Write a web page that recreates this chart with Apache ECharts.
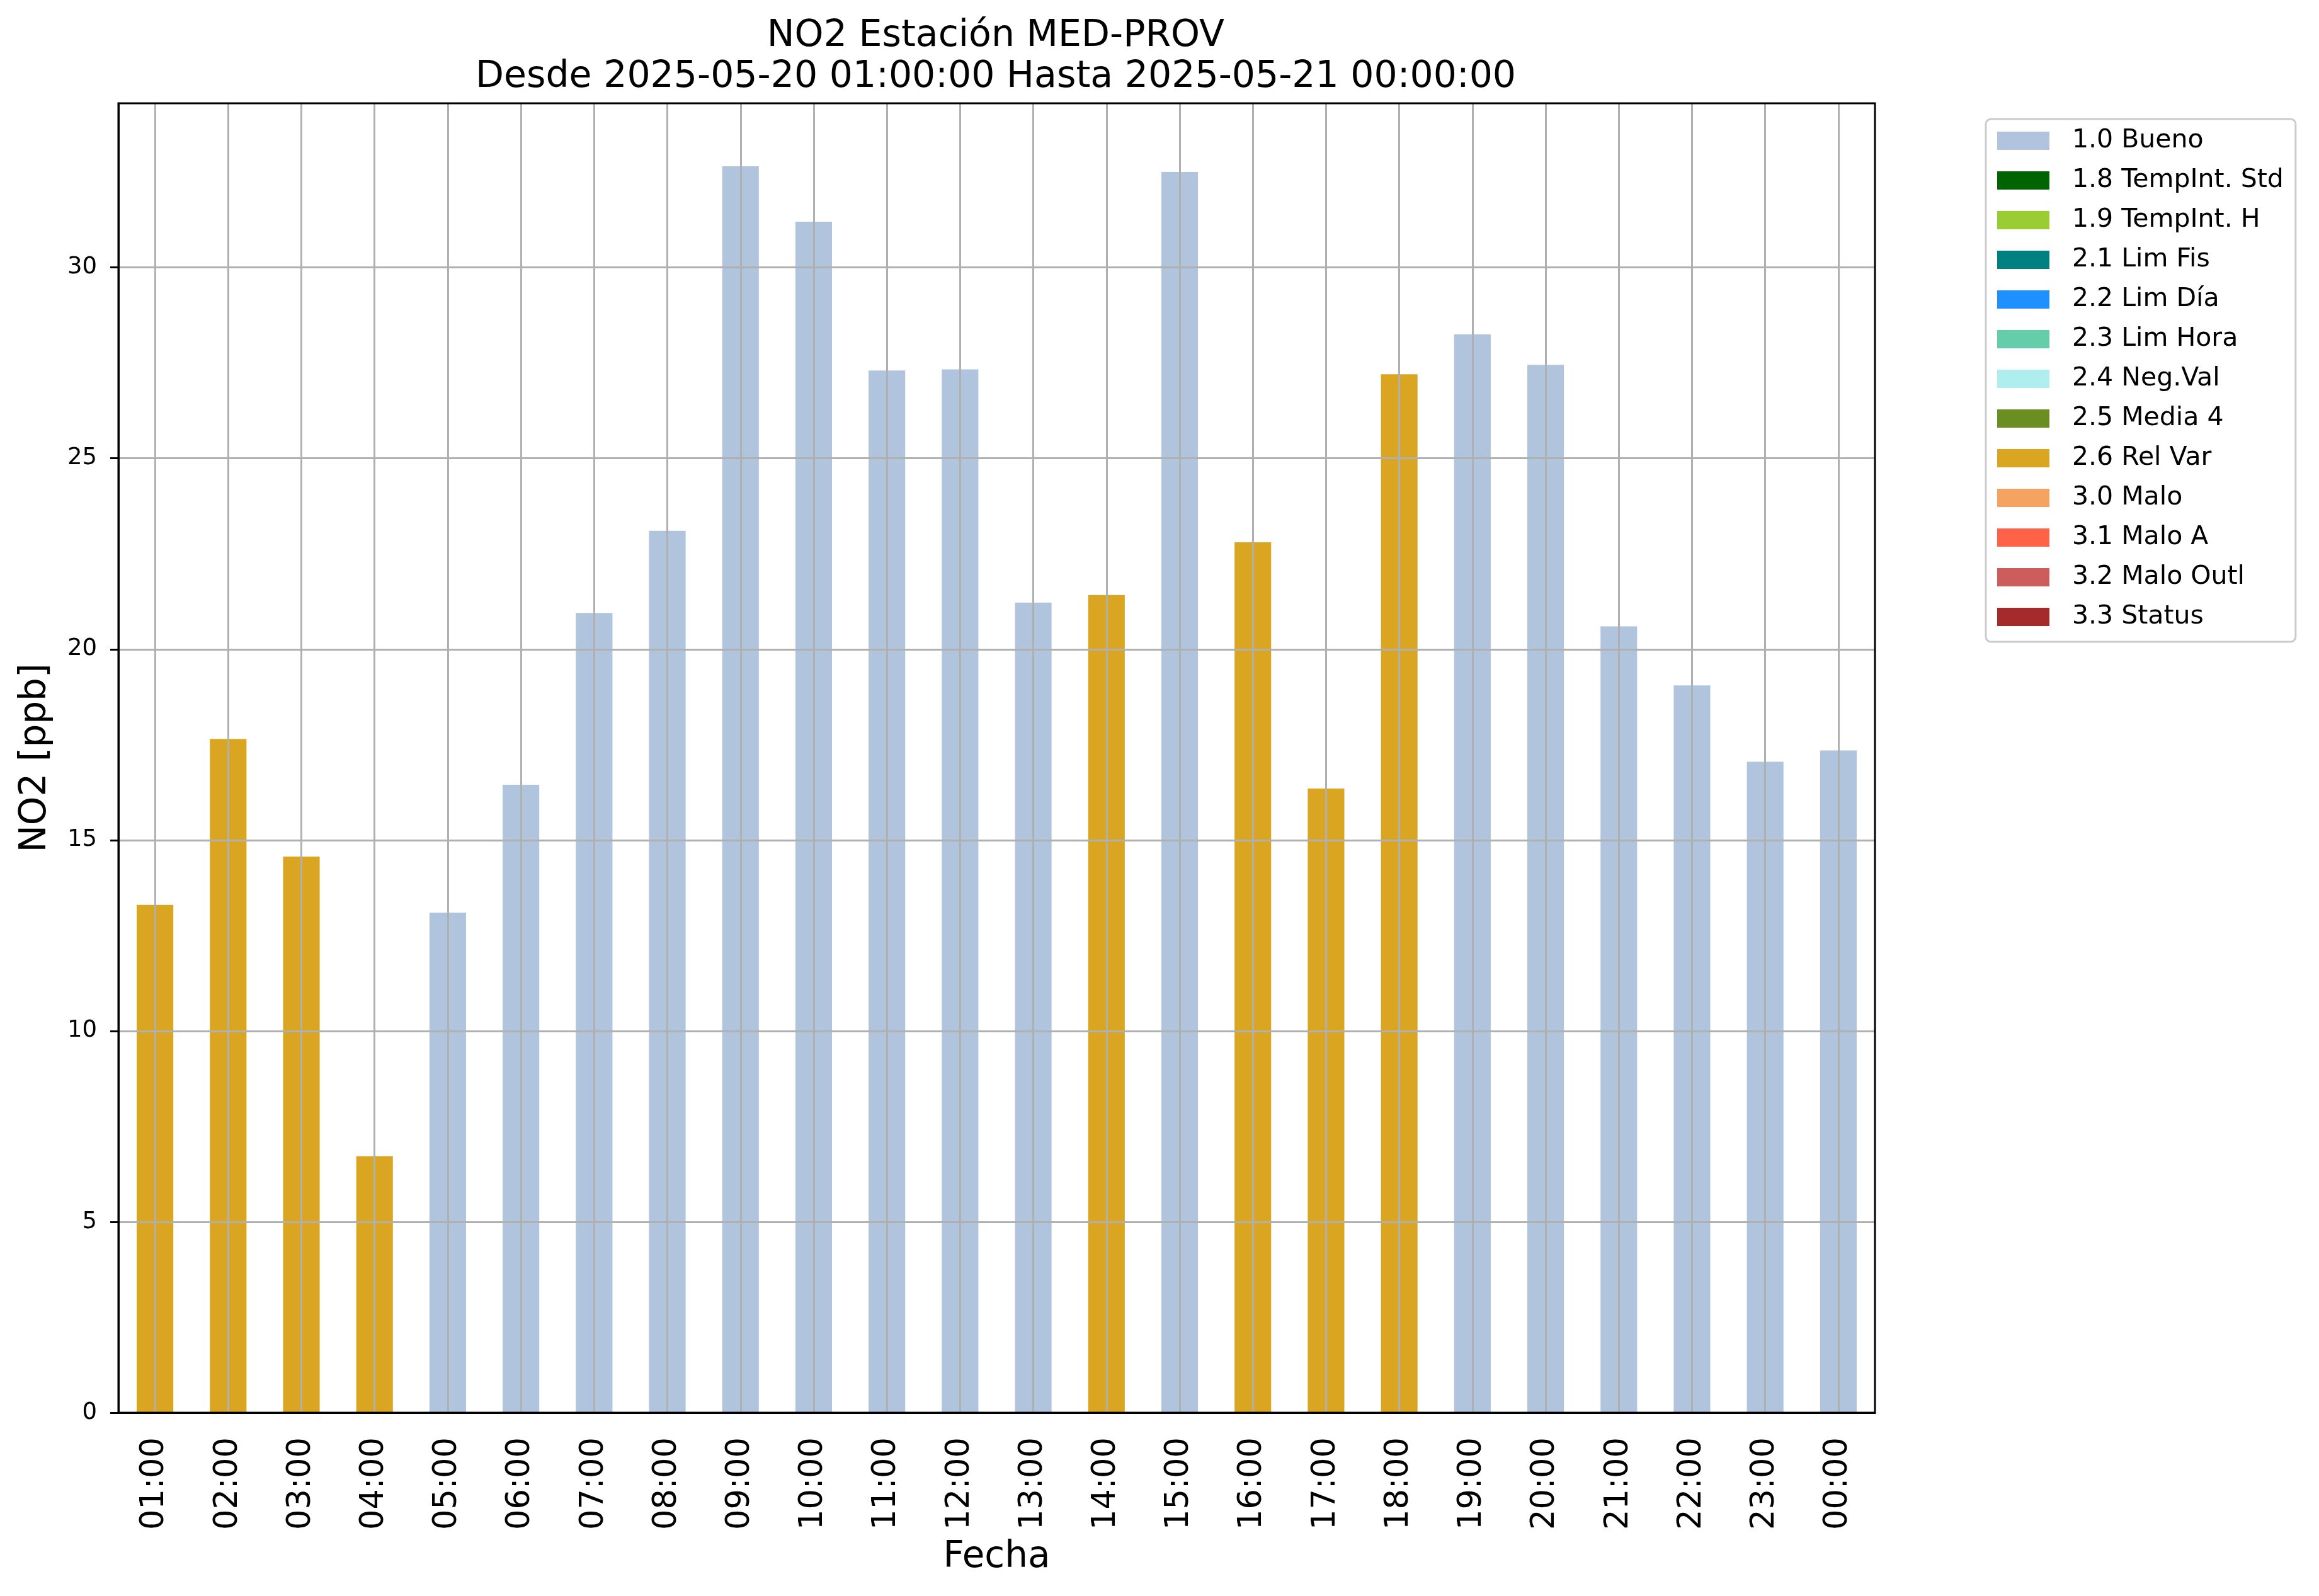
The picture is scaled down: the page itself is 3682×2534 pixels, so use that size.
<!DOCTYPE html>
<html><head><meta charset="utf-8">
<script src="https://cdn.jsdelivr.net/npm/echarts@6/dist/echarts.min.js"></script>
<style>html,body{margin:0;padding:0;background:#fff}#c{width:3682px;height:2534px}</style>
</head><body><div id="c"></div>
<script>
const hours = ['01:00','02:00','03:00','04:00','05:00','06:00','07:00','08:00','09:00','10:00','11:00','12:00',
  '13:00','14:00','15:00','16:00','17:00','18:00','19:00','20:00','21:00','22:00','23:00','00:00'];
const no2Values = [13.3, 17.65, 14.57, 6.72, 13.1, 16.45, 20.95, 23.1, 32.65, 31.2, 27.3, 27.33,
  21.22, 21.42, 32.5, 22.8, 16.35, 27.2, 28.25, 27.45, 20.6, 19.05, 17.05, 17.35];
const qualityFlags = ['2.6','2.6','2.6','2.6','1.0','1.0','1.0','1.0','1.0','1.0','1.0','1.0',
  '1.0','2.6','1.0','2.6','2.6','2.6','1.0','1.0','1.0','1.0','1.0','1.0'];
const flagCodes = ['1.0','1.8','1.9','2.1','2.2','2.3','2.4','2.5','2.6','3.0','3.1','3.2','3.3'];
const flagNames = ['1.0 Bueno','1.8 TempInt. Std','1.9 TempInt. H','2.1 Lim Fis','2.2 Lim Día','2.3 Lim Hora',
  '2.4 Neg.Val','2.5 Media 4','2.6 Rel Var','3.0 Malo','3.1 Malo A','3.2 Malo Outl','3.3 Status'];
const flagColors = ['#B0C4DE','#006400','#9ACD32','#008080','#1E90FF','#66CDAA','#AFEEEE','#6B8E23',
  '#DAA520','#F4A460','#FF6347','#CD5C5C','#A52A2A'];
const yTicks = [0, 5, 10, 15, 20, 25, 30];
const titleLines = ['NO2 Estación MED-PROV', 'Desde 2025-05-20 01:00:00 Hasta 2025-05-21 00:00:00'];

const FONT = 'DejaVu Sans';
const chart = echarts.init(document.getElementById('c'), null, {renderer: 'canvas'});

const series = flagCodes.map((code, k) => ({
  name: flagNames[k],
  type: 'bar',
  stack: 'total',
  barWidth: '50%',
  itemStyle: {color: flagColors[k]},
  data: no2Values.map((v, i) => qualityFlags[i] === code ? v : '-'),
  z: 2
}));

chart.setOption({
  animation: false,
  backgroundColor: '#ffffff',
  title: {
    text: titleLines.join('\n'),
    left: 1576, top: 20, textAlign: 'center',
    textStyle: {fontFamily: FONT, fontSize: 58.5, fontWeight: 'normal', color: '#000', lineHeight: 65}
  },
  legend: {
    orient: 'vertical', left: 3153, top: 189,
    padding: [14, 19, 19, 18],
    itemWidth: 83, itemHeight: 29, itemGap: 22,
    icon: 'rect',
    selectedMode: false,
    backgroundColor: '#ffffff',
    borderColor: '#cccccc', borderWidth: 3, borderRadius: 8,
    textStyle: {fontFamily: FONT, fontSize: 41, lineHeight: 41, color: '#000', padding: [0, 0, 0, 31]},
    data: flagNames
  },
  grid: {left: 188, right: 705, top: 164, bottom: 291, show: true, borderColor: '#000', borderWidth: 3, z: 4, backgroundColor: 'transparent'},
  xAxis: {
    type: 'category', data: hours, z: 3,
    name: 'Fecha', nameLocation: 'middle', nameGap: 201,
    nameTextStyle: {fontFamily: FONT, fontSize: 58, color: '#000'},
    axisLine: {lineStyle: {color: '#000', width: 3}},
    axisTick: {alignWithLabel: true, length: 13, lineStyle: {color: '#000', width: 3}},
    axisLabel: {rotate: 90, fontFamily: FONT, fontSize: 51, color: '#000', margin: 39, interval: 0},
    splitLine: {show: true, alignWithLabel: true, interval: 0, lineStyle: {color: '#b0b0b0', width: 3}}
  },
  yAxis: {
    type: 'value', min: 0, max: 34.3, interval: 5, z: 3,
    name: 'NO2 [ppb]', nameLocation: 'middle', nameGap: 102,
    nameTextStyle: {fontFamily: FONT, fontSize: 58, color: '#000'},
    axisLine: {show: true, lineStyle: {color: '#000', width: 3}},
    axisTick: {show: true, length: 13, lineStyle: {color: '#000', width: 3}, customValues: yTicks},
    axisLabel: {fontFamily: FONT, fontSize: 37, color: '#000', margin: 34, customValues: yTicks},
    splitLine: {show: true, lineStyle: {color: '#b0b0b0', width: 3}}
  },
  series: series
});
</script></body></html>
